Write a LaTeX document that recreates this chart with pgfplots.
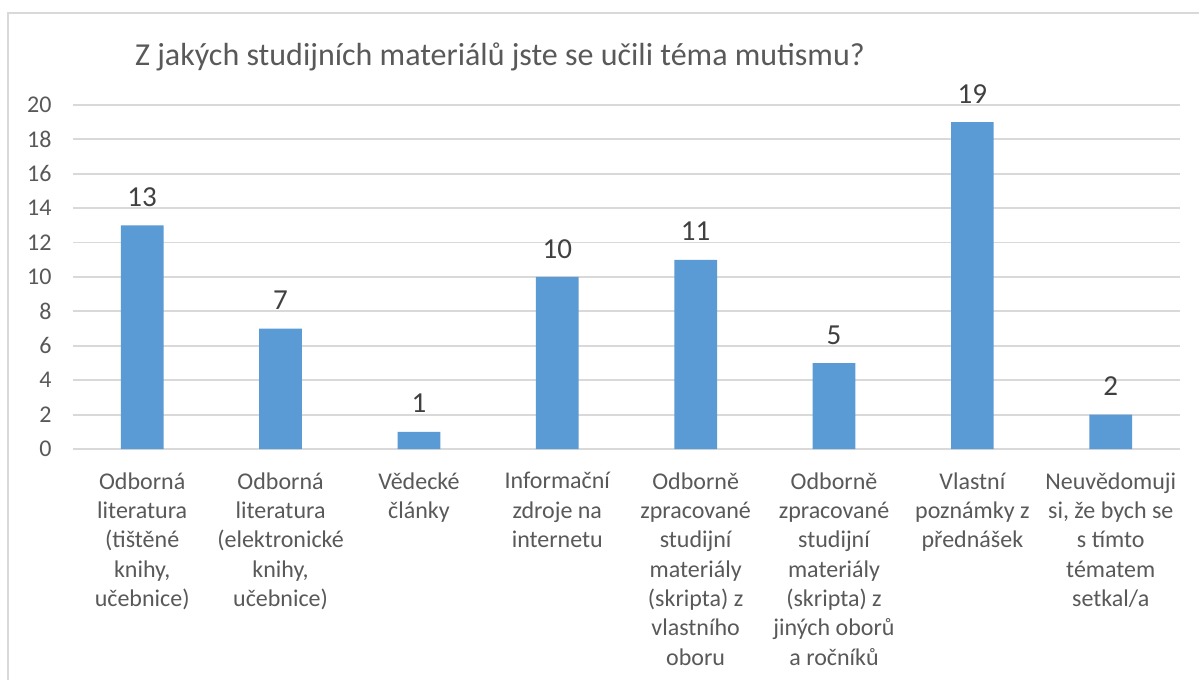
\documentclass[border=0pt]{standalone}
\usepackage{pgfplots}
\pgfplotsset{compat=1.18}
\usepackage{fontspec}
\setmainfont{Carlito}
\definecolor{barblue}{HTML}{5B9BD5}
\definecolor{txtgray}{HTML}{595959}
\definecolor{lblgray}{HTML}{404040}
\definecolor{gridgray}{HTML}{D9D9D9}
\begin{document}
\begin{tikzpicture}[x=1pt,y=1pt]
\path[use as bounding box] (0,0) rectangle (1199,680);
\fill[white] (0,0) rectangle (1199,680);
\draw[gridgray, line width=2pt] (8,0) -- (8,667) -- (1199,667);
\node[anchor=base, text=txtgray, font=\fontsize{32}{38}\selectfont] at (500,614) {Z jakých studijních materiálů jste se učili téma mutismu?};
\begin{axis}[
  at={(73pt,231pt)}, anchor=south west,
  scale only axis, width=1107pt, height=344pt,
  xmin=-0.5, xmax=7.5, ymin=0, ymax=20,
  ytick={0,2,...,20},
  xtick={0,1,2,3,4,5,6,7},
  xticklabels={
    {Odborná\\literatura\\(tištěné\\knihy,\\učebnice)},
    {Odborná\\literatura\\(elektronické\\knihy,\\učebnice)},
    {Vědecké\\články},
    {Informační\\zdroje na\\internetu},
    {Odborně\\zpracované\\studijní\\materiály\\(skripta) z\\vlastního\\oboru},
    {Odborně\\zpracované\\studijní\\materiály\\(skripta) z\\jiných oborů\\a ročníků},
    {Vlastní\\poznámky z\\přednášek},
    {Neuvědomuji\\si, že bych se\\s tímto\\tématem\\setkal/a}
  },
  axis line style={draw=none},
  ymajorgrids, grid style={gridgray, line width=1.8pt},
  major tick length=0pt,
  tick style={draw=none},
  /pgf/number format/assume math mode=true,
  yticklabel style={text=txtgray, font=\fontsize{24}{29}\selectfont, anchor=east, xshift=-18pt},
  xticklabel style={text=txtgray, font=\fontsize{24}{29.3}\selectfont, align=center, anchor=north, yshift=-20pt},
  clip=false,
]
\addplot[ybar, bar width=42.7pt, fill=barblue, draw=none,
  nodes near coords,
  nodes near coords style={anchor=base, yshift=19pt, text=lblgray, font=\fontsize{29}{35}\selectfont, /pgf/number format/assume math mode=true}]
  coordinates {(0,13) (1,7) (2,1) (3,10) (4,11) (5,5) (6,19) (7,2)};
\end{axis}
\end{tikzpicture}
\end{document}
